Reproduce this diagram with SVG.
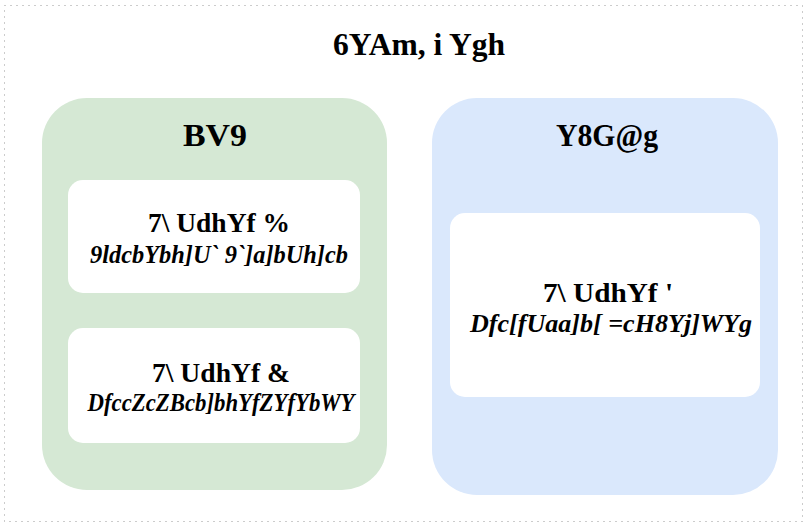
<svg xmlns="http://www.w3.org/2000/svg" width="804" height="524" viewBox="0 0 804 524">
  <style>
    .frame { fill: none; stroke: #999; stroke-width: 1; stroke-dasharray: 1 5; }
    .t { font-family: "Liberation Serif", serif; font-weight: bold; fill: #000; text-anchor: middle; }
    .title { font-size: 31px; }
    .group-label { font-size: 31px; }
    .ch { font-size: 28px; }
    .sub { font-size: 26px; font-style: italic; }
    .card { fill: #fff; }
  </style>
  <rect class="frame" x="4.5" y="5.5" width="798" height="516"/>
  <text class="t title" x="419" y="55" textLength="172" lengthAdjust="spacingAndGlyphs">6YAm, i Ygh</text>

  <g id="group-nbe">
    <rect x="42" y="98" width="345" height="392" rx="45" fill="#d5e8d4"/>
    <text class="t group-label" x="215" y="146" textLength="64" lengthAdjust="spacingAndGlyphs">BV9</text>
  </g>
  <g id="group-edsls">
    <rect x="432" y="98" width="346" height="397" rx="45" fill="#dae8fc"/>
    <text class="t group-label" x="607" y="146" textLength="102" lengthAdjust="spacingAndGlyphs">Y8G@g</text>
  </g>

  <g id="chapter-1">
    <rect class="card" x="68" y="180" width="292" height="113" rx="15"/>
    <text class="t ch" x="219" y="232" textLength="142" lengthAdjust="spacingAndGlyphs">7\ UdhYf %</text>
    <text class="t sub" x="219" y="263" textLength="258" lengthAdjust="spacingAndGlyphs">9ldcbYbh]U` 9`]a]bUh]cb</text>
  </g>
  <g id="chapter-2">
    <rect class="card" x="68" y="328" width="292" height="115" rx="15"/>
    <text class="t ch" x="221" y="382" textLength="138" lengthAdjust="spacingAndGlyphs">7\ UdhYf &amp;</text>
    <text class="t sub" x="221" y="411" textLength="267" lengthAdjust="spacingAndGlyphs">DfccZcZBcb]bhYfZYfYbWY</text>
  </g>
  <g id="chapter-3">
    <rect class="card" x="450" y="213" width="310" height="184" rx="15"/>
    <text class="t ch" x="608" y="302" textLength="130" lengthAdjust="spacingAndGlyphs">7\ UdhYf '</text>
    <text class="t sub" x="611" y="332" textLength="282" lengthAdjust="spacingAndGlyphs">Dfc[fUaa]b[ =cH8Yj]WYg</text>
  </g>
  <g id="connectors"></g>
</svg>
